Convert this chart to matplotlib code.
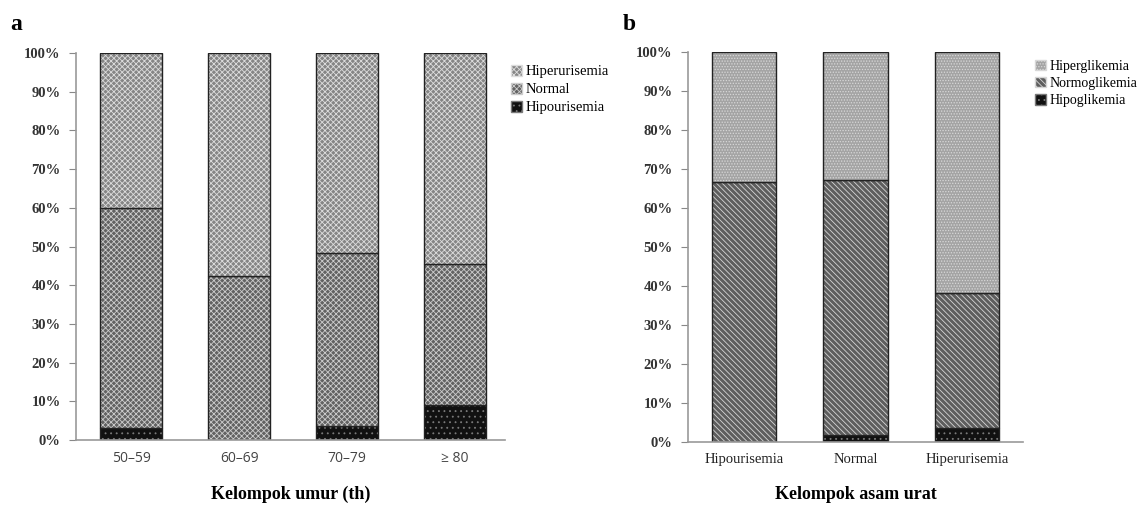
import matplotlib
matplotlib.use("Agg")
import matplotlib.pyplot as plt
import numpy as np
from matplotlib.patches import Patch

# panel a: age group vs uric acid status (%)
AGE = ["50\u201359", "60\u201369", "70\u201379", "\u2265 80"]
A_HIPO = [3.0, 0.0, 3.7, 9.1]
A_NORMAL = [57.0, 42.5, 44.6, 36.4]
A_HIPER = [40.0, 57.5, 51.7, 54.5]
A_LEG = ["Hiperurisemia", "Normal", "Hipourisemia"]

# panel b: uric acid group vs glycemic status (%)
URIC = ["Hipourisemia", "Normal", "Hiperurisemia"]
B_HIPO = [0.0, 1.8, 3.5]
B_NORMO = [66.7, 65.5, 34.8]
B_HIPER = [33.3, 32.7, 61.7]
B_LEG = ["Hiperglikemia", "Normoglikemia", "Hipoglikemia"]

SERIF = "Liberation Serif"
plt.rcParams["font.family"] = SERIF
plt.rcParams["hatch.linewidth"] = 0.6

fig = plt.figure(figsize=(11.42, 5.05), dpi=100)
axa = fig.add_axes([0.0666, 0.1287, 0.3754, 0.7663])
axb = fig.add_axes([0.6025, 0.1248, 0.2933, 0.7722])


def stack(ax, x, vals, styles, width):
    bottom = np.zeros(len(x))
    for v, (fc, hc, h) in zip(vals, styles):
        v = np.array(v)
        ax.bar(x, v, width, bottom=bottom, color=fc, edgecolor=hc, hatch=h, linewidth=0)
        ax.bar(x, v, width, bottom=bottom, fill=False, edgecolor="#222222", linewidth=1.0)
        bottom += v


def style(ax, labels, xfont, xcolor, xsize):
    ax.set_ylim(0, 100)
    ax.set_yticks(range(0, 101, 10))
    ax.set_yticklabels([f"{t}%" for t in range(0, 101, 10)], fontsize=10.5,
                       fontweight="bold", color="#333333")
    ax.set_xticks(range(len(labels)))
    ax.set_xticklabels(labels, fontsize=xsize, family=xfont, color=xcolor)
    ax.tick_params(axis="x", length=0, pad=8)
    ax.tick_params(axis="y", length=5, color="#888888", direction="out", pad=6)
    for s in ["top", "right"]:
        ax.spines[s].set_visible(False)
    for s in ["left", "bottom"]:
        ax.spines[s].set_color("#999999")
        ax.spines[s].set_linewidth(1.2)


xa = np.arange(len(AGE))
sty_a = [("#111111", "#7a7a7a", "..."),
         ("#626262", "#cccccc", "xxxxxx"),
         ("#858585", "#dddddd", "//////\\\\\\\\\\\\")]
stack(axa, xa, [A_HIPO, A_NORMAL, A_HIPER], sty_a, 0.575)
axa.set_xlim(-0.51, 3.46)
style(axa, AGE, "Open Sans", "#444444", 10)
axa.set_xlabel("Kelompok umur (th)", fontsize=13, fontweight="bold", labelpad=14)

xb = np.arange(len(URIC))
sty_b = [("#111111", "#7a7a7a", "..."),
         ("#5e5e5e", "#d6d6d6", "\\\\\\\\\\\\"),
         ("#a4a4a4", "#d8d8d8", "......")]
stack(axb, xb, [B_HIPO, B_NORMO, B_HIPER], sty_b, 0.575)
axb.set_xlim(-0.5, 2.5)
style(axb, URIC, SERIF, "#222222", 10.5)
axb.set_xlabel("Kelompok asam urat", fontsize=13, fontweight="bold", labelpad=14)


def legend(ax, labels, styles, anchor, size):
    hs = [Patch(facecolor=fc, edgecolor=hc, hatch=h) for fc, hc, h in styles[::-1]]
    ax.legend(hs, labels, loc="upper left", bbox_to_anchor=anchor, frameon=False,
              fontsize=size, handlelength=0.8, handleheight=0.8, handletextpad=0.2,
              labelspacing=0.3, borderaxespad=0)


legend(axa, A_LEG, sty_a, (1.0, 0.985), 10.5)
legend(axb, B_LEG, sty_b, (1.02, 0.995), 10)

fig.text(0.009, 0.94, "a", fontsize=17, fontweight="bold")
fig.text(0.545, 0.94, "b", fontsize=17, fontweight="bold")

fig.savefig("out.png", dpi=100)
